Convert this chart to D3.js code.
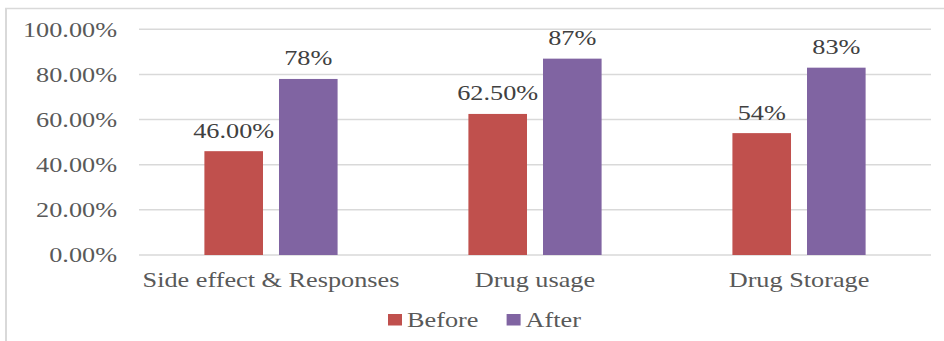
<!DOCTYPE html>
<html>
<head>
<meta charset="utf-8">
<script src="https://cdn.jsdelivr.net/npm/d3@7"></script>
<style>
  html, body { margin: 0; padding: 0; background: #fff; }
  svg { display: block; }
  text { font-family: "Liberation Serif", "Times New Roman", serif; }
</style>
</head>
<body>
<svg id="chart" width="944" height="341"></svg>
<script>
// Chart data
const categories = ["Side effect & Responses", "Drug usage", "Drug Storage"];
const seriesNames = ["Before", "After"];
const beforeValues = [0.46, 0.625, 0.54];
const afterValues = [0.78, 0.87, 0.83];
const beforeLabels = ["46.00%", "62.50%", "54%"];
const afterLabels = ["78%", "87%", "83%"];
const yTicks = [0, 0.2, 0.4, 0.6, 0.8, 1.0];

const colors = { Before: "#C0504D", After: "#8064A2" };
const axisColor = "#595959";
const labelColor = "#404040";
const gridColor = "#D9D9D9";
const fontSize = 21;
const stretch = 1.25; // wide serif lettering

const svg = d3.select("#chart");

// Frame lines (left and top edges)
svg.append("line").attr("x1", 6).attr("x2", 6).attr("y1", 8).attr("y2", 341)
  .attr("stroke", gridColor).attr("stroke-width", 2);
svg.append("line").attr("x1", 5).attr("x2", 944).attr("y1", 8.5).attr("y2", 8.5)
  .attr("stroke", gridColor).attr("stroke-width", 1.5);

const plotLeft = 139, plotRight = 931, plotTop = 29.3, plotBottom = 255;

const x0 = d3.scaleBand().domain(categories).range([plotLeft, plotRight])
  .paddingInner(0.4955).paddingOuter(0.2477);
const x1 = d3.scaleBand().domain(seriesNames).range([0, x0.bandwidth()])
  .paddingInner(0.2145);
const y = d3.scaleLinear().domain([0, 1]).range([plotBottom, plotTop]);

// Gridlines
svg.append("g").selectAll("line").data(yTicks).join("line")
  .attr("x1", plotLeft).attr("x2", plotRight)
  .attr("y1", d => y(d)).attr("y2", d => y(d))
  .attr("stroke", gridColor).attr("stroke-width", 1.5);

// Y axis labels
const yAxis = svg.append("g").attr("transform", `translate(${plotLeft},0)`)
  .call(d3.axisLeft(y).tickValues(yTicks).tickFormat(d3.format(".2%")).tickSize(0));
yAxis.select(".domain").remove();
yAxis.selectAll("text")
  .attr("x", 0).attr("dy", "0.33em")
  .attr("transform", `translate(-22,0) scale(${stretch},1)`)
  .attr("text-anchor", "end")
  .attr("fill", axisColor)
  .style("font-size", fontSize + "px")
  .style("font-family", '"Liberation Serif", "Times New Roman", serif');

// X axis labels
const xAxis = svg.append("g").attr("transform", `translate(0,${plotBottom})`)
  .call(d3.axisBottom(x0).tickSize(0));
xAxis.select(".domain").remove();
xAxis.selectAll("text")
  .attr("y", 0).attr("dy", 0)
  .attr("transform", `translate(0,31.7) scale(${stretch},1)`)
  .attr("fill", axisColor)
  .style("font-size", fontSize + "px")
  .style("font-family", '"Liberation Serif", "Times New Roman", serif');

// Bars and value labels
const rows = categories.map((c, i) => ({
  category: c,
  items: [
    { series: "Before", value: beforeValues[i], label: beforeLabels[i] },
    { series: "After", value: afterValues[i], label: afterLabels[i] }
  ]
}));

const groups = svg.append("g").selectAll("g").data(rows).join("g")
  .attr("transform", d => `translate(${x0(d.category)},0)`);

groups.selectAll("rect").data(d => d.items).join("rect")
  .attr("x", d => x1(d.series))
  .attr("width", x1.bandwidth())
  .attr("y", d => y(d.value))
  .attr("height", d => y(0) - y(d.value))
  .attr("fill", d => colors[d.series]);

groups.selectAll("text").data(d => d.items).join("text")
  .attr("transform", d => `translate(${x1(d.series) + x1.bandwidth() / 2},${y(d.value) - 13.5}) scale(${stretch},1)`)
  .attr("text-anchor", "middle")
  .attr("fill", labelColor)
  .style("font-size", fontSize + "px")
  .text(d => d.label);

// Legend
const legendItems = [
  { name: "Before", x: 388 },
  { name: "After", x: 506.6 }
];
const legend = svg.append("g").selectAll("g").data(legendItems).join("g")
  .attr("transform", d => `translate(${d.x},0)`);
legend.append("rect")
  .attr("x", 0).attr("y", 314).attr("width", 14).attr("height", 11.5)
  .attr("fill", d => colors[d.name]);
legend.append("text")
  .attr("transform", `translate(19,326.7) scale(${stretch},1)`)
  .attr("fill", axisColor)
  .style("font-size", fontSize + "px")
  .text(d => d.name);
</script>
</body>
</html>
